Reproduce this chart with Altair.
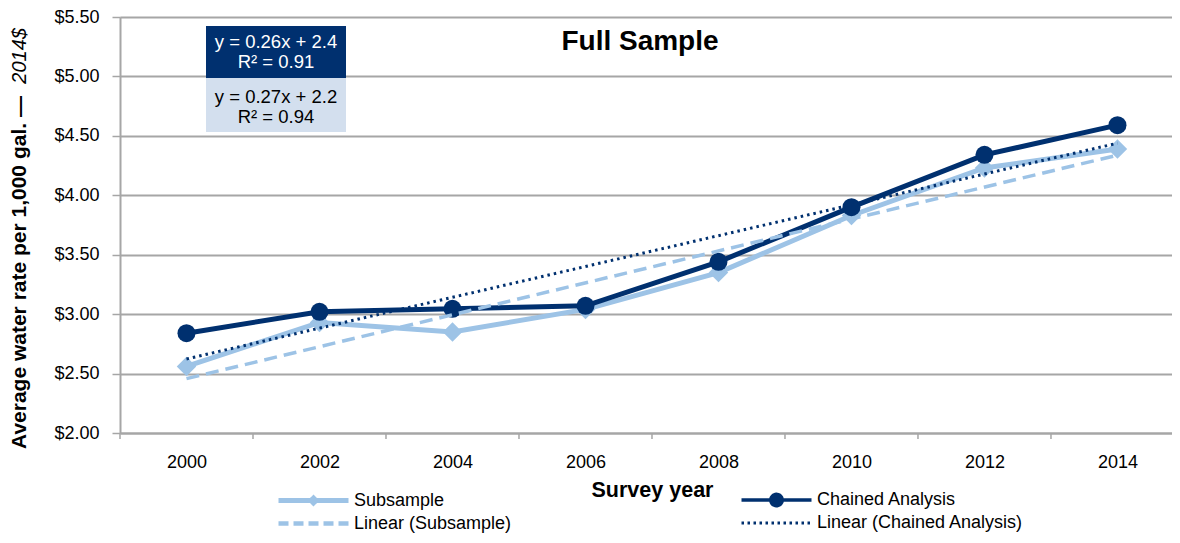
import altair as alt
import pandas as pd

# ---------------- data ----------------
years = [2000, 2002, 2004, 2006, 2008, 2010, 2012, 2014]
subsample = [2.56, 2.93, 2.85, 3.04, 3.35, 3.83, 4.23, 4.39]
chained = [2.84, 3.02, 3.045, 3.07, 3.44, 3.90, 4.34, 4.59]
series_names = ["Subsample", "Chained Analysis"]
# legend fills column by column: this order gives the two rows of the reference
legend_entries = ["Subsample", "Linear (Subsample)",
                  "Chained Analysis", "Linear (Chained Analysis)"]
y_ticks = [2.0, 2.5, 3.0, 3.5, 4.0, 4.5, 5.0, 5.5]
boundary_years = [1999, 2001, 2003, 2005, 2007, 2009, 2011, 2013]
title_text = ["Full Sample"]
y_title_main = ["Average water rate per 1,000 gal. \u2014"]
y_title_unit = ["2014$"]
x_title = "Survey year"

# ---------------- style ----------------
FONT = "Liberation Sans"
DARK = "#00306F"
LIGHT = "#9DC3E6"
BOX_LIGHT = "#D3DFEE"
GRID = "#A6A6A6"
W, H = 1052, 416

df = pd.DataFrame({
    "year": years * 2,
    "value": subsample + chained,
    "series": [series_names[0]] * len(years) + [series_names[1]] * len(years),
})

x_enc = alt.X("year:Q",
              scale=alt.Scale(domain=[1999, 2014.82], nice=False, zero=False),
              axis=alt.Axis(values=years, format="d", ticks=False, tickSize=0,
                            labelPadding=20, labelFontSize=18, labelFont=FONT,
                            labelColor="black", title=x_title, titleFont=FONT,
                            titleFontSize=21.5, titleFontWeight="bold",
                            titleColor="black", titlePadding=8,
                            titleX=532, titleAlign="center",
                            domainColor=GRID, domainWidth=2, grid=False))
y_enc = alt.Y("value:Q",
              scale=alt.Scale(domain=[2, 5.5], nice=False, zero=False),
              axis=alt.Axis(values=y_ticks, format="$.2f", title=None,
                            tickSize=8, tickColor=GRID, tickWidth=1.5,
                            labelPadding=13, labelFontSize=18, labelFont=FONT,
                            labelColor="black", domainColor=GRID, domainWidth=2,
                            grid=True, gridColor=GRID, gridWidth=2))

# legend symbol paths (units of sqrt(size)/2): line with marker in the middle
P_LINE = "M-1,0L9,0"
P_CIRC = ("M-1,0L9,0"
          "M4.3,0A0.3,0.3,0,1,1,3.7,0A0.3,0.3,0,1,1,4.3,0Z"
          "M4.8,0A0.8,0.8,0,1,1,3.2,0A0.8,0.8,0,1,1,4.8,0Z")
P_DIAM = "M-1,0L9,0M4,-0.35L4.35,0L4,0.35L3.65,0Z"

legend = alt.Legend(
    title=None, orient="none", legendX=156, legendY=474, columns=2,
    symbolSize=196, labelOffset=59, columnPadding=222, rowPadding=1,
    labelFontSize=18, labelFont=FONT, labelColor="black", labelLimit=400,
    symbolStrokeWidth=5, symbolOpacity=1,
)

# legend-only layer (no rows drawn; entries come from the explicit domains)
legend_layer = alt.Chart(pd.DataFrame({"series": legend_entries})).transform_filter(
    "false").mark_point(filled=False, opacity=1, size=196).encode(
    color=alt.Color("series:N", scale=alt.Scale(domain=legend_entries,
                                                 range=[LIGHT, LIGHT, DARK, DARK]),
                    legend=legend),
    shape=alt.Shape("series:N", scale=alt.Scale(domain=legend_entries,
                                                 range=[P_DIAM, P_LINE, P_CIRC, P_LINE]),
                    legend=legend),
    strokeDash=alt.StrokeDash("series:N",
                              scale=alt.Scale(domain=legend_entries,
                                              range=[[1, 0], [10, 5], [1, 0], [2.5, 3.5]]),
                              legend=legend),
    strokeWidth=alt.StrokeWidth("series:N",
                                scale=alt.Scale(domain=legend_entries, range=[5, 3, 5, 3]),
                                legend=legend),
)

base = alt.Chart(df)
sub = base.transform_filter("datum.series === 'Subsample'")
cha = base.transform_filter("datum.series === 'Chained Analysis'")

sub_line = sub.mark_line(strokeWidth=5, color=LIGHT).encode(x=x_enc, y=y_enc)
sub_pts = sub.mark_point(shape="diamond", filled=True, size=380, color=LIGHT,
                         opacity=1).encode(x=x_enc, y=y_enc)
cha_line = cha.mark_line(strokeWidth=5, color=DARK).encode(x=x_enc, y=y_enc)
cha_pts = cha.mark_circle(size=324, color=DARK, opacity=1).encode(x=x_enc, y=y_enc)

sub_trend = sub.transform_regression("year", "value").mark_line(
    strokeWidth=3.5, strokeDash=[13, 7], color=LIGHT).encode(x=x_enc, y=y_enc)
cha_trend = cha.transform_regression("year", "value").mark_line(
    strokeWidth=3, strokeDash=[2.5, 4], color=DARK).encode(x=x_enc, y=y_enc)

# tick marks at category boundaries
ticks = alt.Chart(pd.DataFrame({"year": boundary_years})).mark_rule(
    color=GRID, strokeWidth=1.5).encode(x=x_enc, y=alt.value(H), y2=alt.value(H + 6))


def eq_layers(src, fill, txt_color, y0, y1, off):
    p = (src.transform_calculate(idx="(datum.year - 1998) / 2")
         .transform_regression("idx", "value", params=True)
         .transform_calculate(
             line1="'y = ' + format(datum.coef[1], '.2f') + 'x + ' + format(datum.coef[0], '.1f')",
             line2="'R\u00b2 = ' + format(datum.rSquared, '.2f')"))
    box = p.mark_rect(color=fill).encode(
        x=alt.value(86), x2=alt.value(226), y=alt.value(y0), y2=alt.value(y1))
    t1 = p.mark_text(font=FONT, fontSize=18.5, color=txt_color, baseline="middle").encode(
        text="line1:N", x=alt.value(156), y=alt.value(y0 + off))
    t2 = p.mark_text(font=FONT, fontSize=18.5, color=txt_color, baseline="middle").encode(
        text="line2:N", x=alt.value(156), y=alt.value(y0 + off + 20))
    return [box, t1, t2]


eq_cha = eq_layers(cha, DARK, "white", 9, 61, 16)
eq_sub = eq_layers(sub, BOX_LIGHT, "black", 61, 115, 19)

title = alt.Chart(pd.DataFrame({"t": title_text})).mark_text(
    font=FONT, fontSize=28, fontWeight="bold", color="black", baseline="middle").encode(
    text="t:N", x=alt.value(520), y=alt.value(25))

ytitle_main = alt.Chart(pd.DataFrame({"t": y_title_main})).mark_text(
    font=FONT, fontSize=21, fontWeight="bold", color="black", angle=270,
    align="left", baseline="middle").encode(
    text="t:N", x=alt.value(-100), y=alt.value(432))
ytitle_unit = alt.Chart(pd.DataFrame({"t": y_title_unit})).mark_text(
    font=FONT, fontSize=20, fontStyle="italic", color="black", angle=270,
    align="right", baseline="middle").encode(
    text="t:N", x=alt.value(-100), y=alt.value(11))

chart = alt.layer(
    sub_line, sub_pts, cha_line, cha_pts, sub_trend, cha_trend, ticks,
    *eq_cha, *eq_sub, title, ytitle_main, ytitle_unit, legend_layer,
).properties(
    width=W, height=H,
    padding={"left": 112, "top": 9, "right": 0, "bottom": 102},
    autosize=alt.AutoSizeParams(type="none"),
).configure_view(stroke=None).configure(font=FONT)

chart.save("out.html", embed_options={"renderer": "svg", "actions": False})
